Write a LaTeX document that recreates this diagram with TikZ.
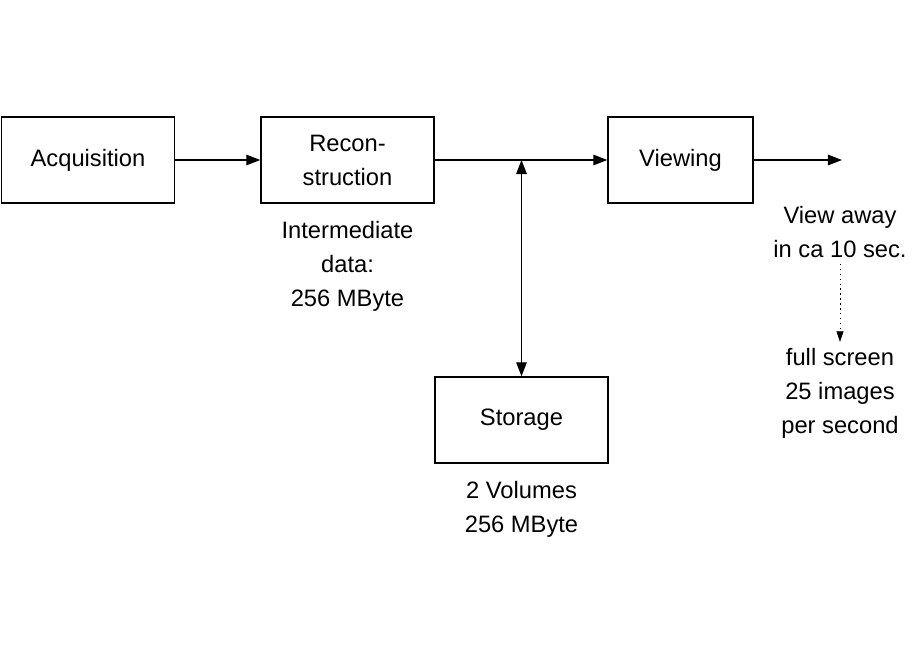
\documentclass[tikz,border=0pt]{standalone}
\usepackage{fontspec}
\setmainfont{Liberation Sans}
\usetikzlibrary{arrows.meta}
\tikzset{
  block/.style={draw, thick, minimum width=3.46cm, minimum height=1.72cm, align=center},
  note/.style={align=center},
  flow/.style={thick, -{Triangle[length=8pt,width=6pt]}}
}
\begin{document}
\begin{tikzpicture}[x=0.02cm, y=-0.02cm,
                font=\fontsize{13.5}{19.3}\selectfont]
            \useasboundingbox (0,0) rectangle (920,660);
            \node[block] (acq) at (88,160) {Acquisition};
            \node[block] (rec) at (347.5,160) {Recon-\\struction};
            \node[block, minimum width=2.9cm] (view) at (680.5,160) {Viewing};
            \node[block] (store) at (521.5,420) {Storage};
            \coordinate (out) at (842,160);
            \coordinate (split) at (521.5,160);
            \node[note] (inter) at (347.5,266) {Intermediate\\data:\\256 MByte};
            \node[note] (away) at (840,232) {View away\\in ca 10 sec.};
            \node[note] (full) at (840,393) {full screen\\25 images\\per second};
            \node[note] (vol) at (521.5,509) {2 Volumes\\256 MByte};
            \draw[flow] (acq) -- (rec);
            \draw[flow] (rec) -- (view);
            \draw[flow] (view) -- (out);
            \draw[flow, {Triangle[length=8pt,width=6pt]}-{Triangle[length=8pt,width=6pt]}] (split) -- (store);
            \draw[flow, dotted, thin, -{Triangle[length=6pt,width=4pt]}] (away) -- (full);
        \end{tikzpicture}
\end{document}
